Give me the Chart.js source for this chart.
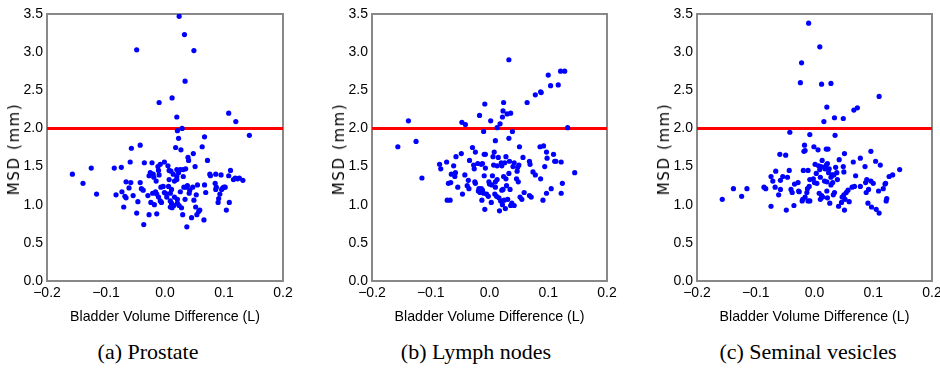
<!DOCTYPE html>
<html>
<head>
<meta charset="utf-8">
<script src="https://cdn.jsdelivr.net/npm/chart.js@4.4.0/dist/chart.umd.min.js"></script>
<style>
  body { margin: 0; background: #fff; width: 940px; height: 374px; position: relative; overflow: hidden; }
  canvas { position: absolute; top: 0; }
  .ytitle {
    position: absolute; top: 149px;
    font-family: 'DejaVu Sans', sans-serif; font-size: 15px; letter-spacing: 1.6px;
    transform: translate(-50%, -50%) rotate(-90deg); white-space: nowrap; color: #000;
  }
  .caption {
    position: absolute; top: 339px;
    font-family: 'Liberation Serif', serif; font-size: 22px;
    transform: translateX(-50%); white-space: nowrap; color: #000;
  }
</style>
</head>
<body>
<canvas id="chartA" width="300" height="330" style="left:0px"></canvas>
<canvas id="chartB" width="300" height="330" style="left:325px"></canvas>
<canvas id="chartC" width="300" height="330" style="left:650px"></canvas>
<div class="ytitle" style="left:14px">MSD (mm)</div>
<div class="ytitle" style="left:339px">MSD (mm)</div>
<div class="ytitle" style="left:664px">MSD (mm)</div>
<div class="caption" style="left:148px">(a) Prostate</div>
<div class="caption" style="left:476px">(b) Lymph nodes</div>
<div class="caption" style="left:808px">(c) Seminal vesicles</div>
<script>
// tick positions
const xTickValues = [-0.2, -0.1, 0.0, 0.1, 0.2];
const yTickValues = [0.0, 0.5, 1.0, 1.5, 2.0, 2.5, 3.0, 3.5];
const msdThreshold = 2.0;

// (a) Prostate
const prostateX = [
  -0.157,-0.139,-0.125,-0.116,-0.086,-0.083,-0.074,-0.073,-0.070,-0.068,
  -0.066,-0.066,-0.061,-0.059,-0.058,-0.057,-0.054,-0.048,-0.046,-0.042,
  -0.042,-0.040,-0.037,-0.036,-0.035,-0.029,-0.027,-0.027,-0.025,-0.024,
  -0.022,-0.021,-0.020,-0.019,-0.018,-0.016,-0.015,-0.014,-0.014,-0.012,
  -0.011,-0.011,-0.010,-0.008,-0.008,-0.007,-0.006,-0.001,-0.003,-0.001,
  0.001,0.003,0.005,0.006,0.007,0.007,0.009,0.009,0.009,0.010,
  0.011,0.011,0.012,0.014,0.015,0.016,0.016,0.018,0.020,0.020,
  0.020,0.021,0.021,0.023,0.023,0.024,0.026,0.026,0.027,0.028,
  0.030,0.031,0.031,0.032,0.034,0.035,0.036,0.037,0.038,0.039,
  0.040,0.041,0.042,0.045,0.047,0.048,0.049,0.051,0.052,0.053,
  0.054,0.055,0.057,0.059,0.063,0.066,0.067,0.069,0.072,0.076,
  0.077,0.085,0.086,0.086,0.087,0.090,0.091,0.093,0.095,0.096,
  0.098,0.100,0.102,0.104,0.108,0.109,0.111,0.116,0.119,0.123,
  0.126,0.132,0.143,-0.048,0.024,0.033,0.049,0.034,-0.010,0.012,
  0.108,0.120,0.020,0.021,0.029,0.067
];
const prostateY = [
  1.40,1.28,1.48,1.14,1.48,1.13,1.49,1.17,0.97,1.11,
  1.30,1.09,1.22,1.56,1.29,1.74,1.12,0.89,1.04,1.78,
  1.29,1.21,1.19,0.74,1.55,1.12,0.87,1.38,1.42,1.03,
  1.55,1.15,1.40,1.36,1.00,1.17,1.31,1.14,0.88,1.50,
  1.45,1.10,1.39,1.05,1.53,1.23,1.03,1.56,1.24,1.16,
  1.15,1.10,1.51,1.24,1.33,1.45,1.05,0.97,1.15,1.44,
  1.20,1.02,0.96,1.40,0.99,1.31,1.10,1.75,1.37,1.33,
  1.46,1.07,1.02,1.87,1.42,0.99,1.46,1.17,1.72,0.96,
  0.87,1.46,1.37,1.23,1.07,1.47,1.23,0.71,1.25,1.62,
  1.58,1.15,1.19,0.83,1.23,1.67,1.06,1.50,0.97,1.13,
  0.87,1.26,0.91,0.93,1.76,0.80,1.26,1.16,1.58,1.40,
  1.38,1.28,1.40,1.20,1.23,1.03,1.08,1.14,1.39,1.20,
  1.22,1.23,1.23,0.93,1.38,1.03,1.45,1.33,1.35,1.34,
  1.35,1.32,1.91,3.03,3.47,3.23,3.02,2.62,2.34,2.40,
  2.20,2.09,2.15,1.97,2.00,1.89
];

// (b) Lymph nodes
const lymphX = [
  -0.156,-0.125,-0.115,-0.085,-0.083,-0.073,-0.072,-0.067,-0.070,-0.066,
  -0.065,-0.061,-0.059,-0.058,-0.057,-0.054,-0.048,-0.046,-0.042,-0.038,
  -0.036,-0.035,-0.034,-0.029,-0.027,-0.026,-0.025,-0.024,-0.024,-0.020,
  -0.019,-0.018,-0.017,-0.016,-0.014,-0.014,-0.013,-0.012,-0.012,-0.010,
  -0.010,-0.009,-0.009,-0.008,-0.007,-0.007,-0.005,-0.002,-0.001,0.000,
  0.003,0.004,0.005,0.006,0.007,0.008,0.009,0.010,0.010,0.010,
  0.012,0.013,0.013,0.015,0.016,0.017,0.019,0.020,0.021,0.021,
  0.022,0.023,0.024,0.025,0.026,0.027,0.028,0.028,0.029,0.031,
  0.033,0.033,0.034,0.035,0.036,0.038,0.039,0.040,0.042,0.042,
  0.046,0.047,0.048,0.049,0.050,0.051,0.052,0.055,0.057,0.059,
  0.068,0.068,0.069,0.071,0.074,0.078,0.086,0.087,0.091,0.092,
  0.094,0.097,0.097,0.098,0.105,0.109,0.111,0.113,0.122,0.122,
  0.124,0.145,-0.138,-0.047,-0.041,-0.017,-0.008,0.002,0.013,0.018,
  0.022,0.023,0.024,0.030,0.036,0.033,0.064,0.078,0.087,0.088,
  0.100,0.104,0.117,0.121,0.128,0.133
];
const lymphY = [
  1.76,1.83,1.35,1.53,1.47,1.56,1.06,1.06,1.28,1.29,
  1.40,1.51,1.37,1.42,1.63,1.23,1.67,1.14,1.39,1.25,
  1.32,1.21,1.58,1.75,1.52,1.47,1.30,1.28,1.69,1.54,
  1.18,1.21,1.19,1.16,1.53,1.21,1.06,1.54,1.19,1.15,
  1.96,1.66,1.38,0.94,1.66,1.48,1.14,1.11,1.30,1.27,
  1.03,1.26,1.38,1.63,1.52,1.69,1.14,1.84,1.30,1.23,
  1.11,1.51,1.33,1.62,1.09,0.92,1.05,1.55,1.19,1.51,
  1.00,1.20,1.37,1.06,1.55,0.95,1.63,1.34,1.25,1.07,
  1.87,1.41,1.57,1.20,0.99,1.02,1.96,1.50,0.99,1.55,
  1.34,1.44,1.49,1.30,1.52,1.76,1.10,1.07,1.62,1.16,
  1.57,1.12,1.53,1.10,1.43,1.39,1.76,1.34,1.06,1.77,
  1.50,1.69,1.15,1.61,1.21,1.66,1.57,1.57,1.56,1.15,
  1.28,1.42,2.10,2.08,2.05,2.17,2.32,2.10,2.01,2.06,
  2.15,2.23,2.34,2.19,2.20,2.90,2.34,2.44,2.48,2.47,
  2.70,2.56,2.57,2.75,2.75,2.01
];

// (c) Seminal vesicles
const vesiclesX = [
  -0.157,-0.138,-0.124,-0.115,-0.086,-0.083,-0.074,-0.074,-0.071,-0.067,
  -0.066,-0.061,-0.059,-0.058,-0.058,-0.054,-0.049,-0.048,-0.046,-0.043,
  -0.040,-0.038,-0.035,-0.034,-0.028,-0.027,-0.026,-0.021,-0.020,-0.019,
  -0.018,-0.017,-0.016,-0.016,-0.013,-0.012,-0.011,-0.011,-0.009,-0.008,
  -0.008,-0.002,-0.001,0.000,0.001,0.003,0.004,0.006,0.007,0.008,
  0.009,0.010,0.010,0.011,0.012,0.013,0.014,0.017,0.017,0.018,
  0.020,0.020,0.021,0.021,0.022,0.022,0.023,0.024,0.025,0.026,
  0.028,0.028,0.030,0.031,0.032,0.033,0.034,0.035,0.036,0.038,
  0.039,0.041,0.042,0.046,0.047,0.049,0.050,0.050,0.051,0.051,
  0.052,0.054,0.057,0.059,0.064,0.066,0.068,0.070,0.078,0.078,
  0.086,0.087,0.088,0.089,0.091,0.092,0.096,0.096,0.097,0.100,
  0.104,0.105,0.109,0.110,0.112,0.117,0.120,0.121,0.122,0.123,
  0.127,0.133,0.145,-0.010,0.009,-0.022,-0.024,0.012,0.028,0.110,
  0.021,0.073,0.067,0.034,0.049,0.016,-0.042,-0.008
];
const vesiclesY = [
  1.07,1.21,1.11,1.21,1.23,1.21,0.98,1.37,1.31,1.23,
  1.44,1.13,1.66,1.32,1.20,1.37,1.65,0.93,1.36,1.45,
  1.20,1.16,0.99,1.27,1.29,1.18,1.17,1.05,1.07,1.45,
  1.70,1.78,1.71,1.10,1.16,1.21,1.05,1.45,1.24,1.33,
  1.05,1.34,1.76,1.29,1.53,1.41,1.28,1.72,1.51,1.15,
  1.46,1.07,1.36,1.50,1.12,1.58,1.10,1.49,1.31,1.47,
  1.52,1.73,1.30,1.18,1.09,1.54,1.73,1.42,1.47,1.02,
  1.36,1.26,1.39,1.29,1.13,1.39,1.16,1.91,1.49,1.42,
  1.33,0.98,1.59,1.03,1.10,1.50,1.43,1.13,1.67,0.93,
  1.07,1.16,1.19,1.04,1.23,1.56,1.24,1.38,1.61,1.24,
  1.50,1.29,1.16,1.33,1.02,1.20,1.70,1.31,0.97,1.28,
  1.57,0.94,1.18,0.89,1.52,1.21,1.27,1.28,1.05,1.08,
  1.37,1.39,1.46,3.38,3.07,2.86,2.60,2.58,2.59,2.42,
  2.28,2.27,2.24,2.14,2.13,2.09,1.95,1.92
];

const tickFont = { family: "'Liberation Sans Narrow', 'Liberation Sans', sans-serif", size: 14 };
const frameColor = '#888888';

function fmtTick(v) {
  if (Math.abs(v) < 1e-9) return '0.0';
  return v.toFixed(1).replace('-', '\u2212');
}

function noPad(s) {
  s.paddingLeft = 0; s.paddingRight = 0; s.paddingTop = 0; s.paddingBottom = 0;
}

function frameAxis(position, axis) {
  return {
    type: 'linear',
    position: position,
    axis: axis,
    display: true,
    ticks: { display: false },
    grid: { display: false, drawTicks: false },
    border: { display: true, color: frameColor, width: 2 },
    afterFit: s => { noPad(s); if (axis === 'x') s.height = 0; else s.width = 0; }
  };
}

function makePanel(canvasId, xs, ys, rightPad) {
  const points = xs.map((x, i) => ({ x: x, y: ys[i] }));
  const limit = [
    { x: xTickValues[0], y: msdThreshold },
    { x: xTickValues[xTickValues.length - 1], y: msdThreshold }
  ];
  new Chart(document.getElementById(canvasId), {
    type: 'scatter',
    data: {
      datasets: [{
        data: points,
        backgroundColor: '#0000ff',
        borderWidth: 0,
        pointRadius: 2.6,
        order: 0,
        xAxisID: 'x',
        yAxisID: 'y'
      }, {
        type: 'line',
        data: limit,
        borderColor: '#ff0000',
        borderWidth: 3,
        pointRadius: 0,
        fill: false,
        order: 1,
        xAxisID: 'x',
        yAxisID: 'y'
      }]
    },
    options: {
      responsive: false,
      animation: false,
      devicePixelRatio: 1,
      layout: { padding: { top: 14, right: rightPad, left: 0, bottom: 0 } },
      plugins: { legend: { display: false }, tooltip: { enabled: false } },
      scales: {
        x: {
          type: 'linear',
          position: 'bottom',
          min: xTickValues[0],
          max: xTickValues[xTickValues.length - 1],
          afterBuildTicks: s => { s.ticks = xTickValues.map(v => ({ value: v })); },
          ticks: { callback: v => fmtTick(v), font: tickFont, color: '#000', padding: 4, maxRotation: 0, autoSkip: false },
          grid: { display: false, drawTicks: false },
          border: { display: true, color: frameColor, width: 2 },
          title: {
            display: true,
            text: 'Bladder Volume Difference (L)',
            color: '#000',
            font: { family: "'Liberation Sans Narrow', 'Liberation Sans', sans-serif", size: 14.2 },
            padding: { top: 0, bottom: 4 }
          },
          afterFit: s => { noPad(s); s.height = 49; }
        },
        y: {
          type: 'linear',
          position: 'left',
          min: yTickValues[0],
          max: yTickValues[yTickValues.length - 1],
          afterBuildTicks: s => { s.ticks = yTickValues.map(v => ({ value: v })); },
          ticks: { callback: v => fmtTick(v), font: tickFont, color: '#000', padding: 4, autoSkip: false },
          grid: { display: false, drawTicks: false },
          border: { display: true, color: frameColor, width: 2 },
          afterFit: s => { noPad(s); s.width = 47; }
        },
        xTop: Object.assign(frameAxis('top', 'x'), { min: xTickValues[0], max: xTickValues[xTickValues.length - 1] }),
        yRight: Object.assign(frameAxis('right', 'y'), { min: yTickValues[0], max: yTickValues[yTickValues.length - 1] })
      }
    }
  });
}

makePanel('chartA', prostateX, prostateY, 17);
makePanel('chartB', lymphX, lymphY, 18);
makePanel('chartC', vesiclesX, vesiclesY, 18);
</script>
</body>
</html>
